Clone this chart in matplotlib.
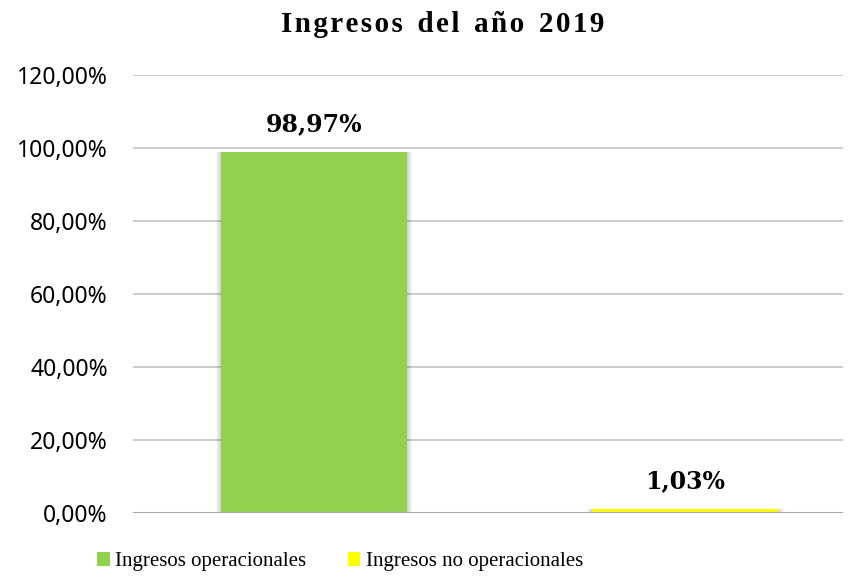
import numpy as np
import matplotlib.pyplot as plt
from matplotlib.ticker import FuncFormatter
from matplotlib.patches import Patch

categorias = ['Ingresos operacionales', 'Ingresos no operacionales']
valores = [98.97, 1.03]
colores = ['#92D050', '#FFFF00']
etiquetas = ['98,97%', '1,03%']

fig = plt.figure(figsize=(8.57, 5.80), dpi=100)
ax = fig.add_axes([0.155, 0.1155, 0.829, 0.7555])

x = np.arange(len(categorias))
ancho = 0.50
# sombra suave alrededor de las barras
for k in range(1, 6):
    ax.bar(x, valores, width=ancho + k * 0.006, color='#000000',
           alpha=0.035, zorder=2, linewidth=0)
barras = ax.bar(x, valores, width=ancho, color=colores, zorder=3)

for xi, v, t in zip(x, valores, etiquetas):
    ax.text(xi, v + 4.3, t, ha='center', va='bottom', fontsize=17,
            fontweight='bold', family='DejaVu Serif')

ax.set_xlim(-0.488, 1.426)
ax.set_ylim(0, 120)
ax.set_yticks(np.arange(0, 121, 20))
ax.yaxis.set_major_formatter(FuncFormatter(lambda v, p: f'{v:.2f}'.replace('.', ',') + '%'))
ax.set_xticks([])
ax.grid(axis='y', color='#C8C8C8', linewidth=1.3, zorder=0)
ax.axhline(0, color='#A6A6A6', linewidth=1.5, zorder=4)
for s in ax.spines.values():
    s.set_visible(False)
ax.tick_params(axis='y', length=0, pad=18, labelsize=16.5)
for lab in ax.get_yticklabels():
    lab.set_family('Noto Sans')

titulo = 'Ingresos del año 2019'
titulo_esp = '\u200a'.join(titulo).replace('\u200a \u200a', '\u2002')
fig.text(0.517, 0.957, titulo_esp, ha='center', va='center', fontsize=21,
         fontweight='bold', family='Liberation Serif')

manijas = [Patch(facecolor=c) for c in colores]
fig.legend(handles=manijas, labels=categorias, loc='lower center',
           bbox_to_anchor=(0.397, -0.017), ncol=2, frameon=False,
           prop={'family': 'Liberation Serif', 'size': 15},
           handlelength=0.6, handleheight=0.7, handletextpad=0.25,
           columnspacing=2.0)

plt.savefig('out.png')
